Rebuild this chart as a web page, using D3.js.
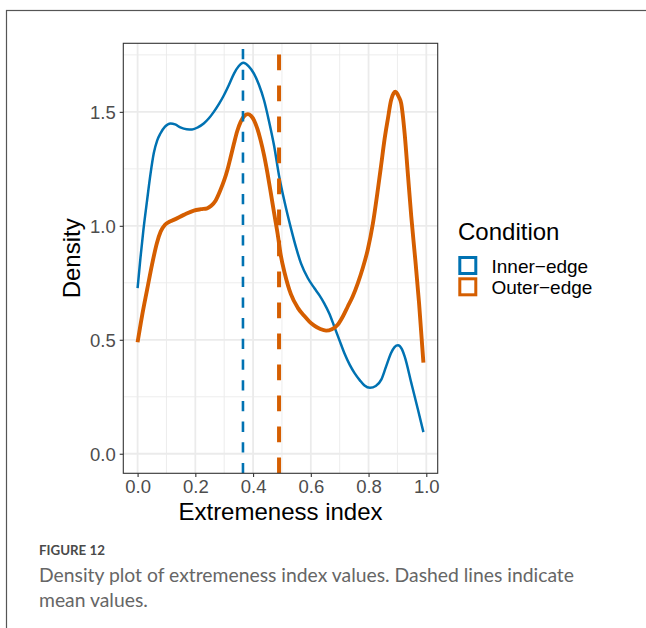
<!DOCTYPE html>
<html>
<head>
<meta charset="utf-8">
<script src="https://cdn.jsdelivr.net/npm/d3@7"></script>
<style>
  html, body { margin: 0; padding: 0; background: #fff; }
  svg { display: block; }
</style>
</head>
<body>
<svg id="chart" width="646" height="628"></svg>
<script>
// ---------- data ----------
const seriesNames = ["Inner\u2212edge", "Outer\u2212edge"];
const seriesColors = ["#0072B2", "#D55E00"];

const innerX = [0, 0.01, 0.02, 0.033, 0.045, 0.056, 0.068, 0.079, 0.095, 0.114, 0.13, 0.148, 0.17, 0.189, 0.21, 0.229, 0.247, 0.264, 0.282, 0.299, 0.317, 0.334, 0.35, 0.366, 0.385, 0.403, 0.42, 0.438, 0.455, 0.473, 0.49, 0.51, 0.531, 0.55, 0.566, 0.59, 0.612, 0.63, 0.646, 0.664, 0.681, 0.70, 0.716, 0.735, 0.751, 0.77, 0.786, 0.805, 0.825, 0.844, 0.86, 0.878, 0.89, 0.902, 0.915, 0.925, 0.948, 0.971, 0.99];
const innerY = [0.727, 0.86, 0.98, 1.113, 1.23, 1.318, 1.375, 1.405, 1.435, 1.449, 1.445, 1.432, 1.424, 1.423, 1.433, 1.449, 1.472, 1.50, 1.535, 1.573, 1.62, 1.668, 1.70, 1.715, 1.70, 1.668, 1.62, 1.551, 1.46, 1.35, 1.22, 1.10, 0.99, 0.90, 0.835, 0.77, 0.727, 0.695, 0.661, 0.615, 0.559, 0.495, 0.442, 0.39, 0.355, 0.322, 0.299, 0.289, 0.297, 0.325, 0.38, 0.442, 0.468, 0.476, 0.46, 0.427, 0.311, 0.194, 0.095];

const outerX = [0, 0.015, 0.033, 0.05, 0.067, 0.08, 0.095, 0.11, 0.125, 0.16, 0.195, 0.22, 0.241, 0.255, 0.27, 0.287, 0.3, 0.311, 0.322, 0.334, 0.345, 0.357, 0.37, 0.382, 0.393, 0.403, 0.415, 0.426, 0.438, 0.45, 0.462, 0.473, 0.485, 0.496, 0.51, 0.531, 0.555, 0.577, 0.595, 0.612, 0.633, 0.653, 0.673, 0.693, 0.71, 0.728, 0.745, 0.763, 0.78, 0.797, 0.815, 0.832, 0.844, 0.855, 0.867, 0.878, 0.893, 0.905, 0.913, 0.925, 0.936, 0.948, 0.962, 0.975, 0.99];
const outerY = [0.489, 0.602, 0.72, 0.83, 0.925, 0.975, 1.005, 1.018, 1.026, 1.048, 1.067, 1.073, 1.077, 1.088, 1.11, 1.157, 1.2, 1.245, 1.3, 1.362, 1.415, 1.456, 1.482, 1.49, 1.482, 1.464, 1.425, 1.376, 1.31, 1.23, 1.14, 1.055, 0.965, 0.87, 0.79, 0.70, 0.64, 0.605, 0.58, 0.562, 0.547, 0.54, 0.546, 0.566, 0.60, 0.646, 0.69, 0.749, 0.815, 0.894, 1.01, 1.157, 1.27, 1.376, 1.47, 1.551, 1.588, 1.565, 1.537, 1.405, 1.23, 1.04, 0.85, 0.66, 0.40];

const meanValues = [0.365, 0.49];

const xTicks = [0, 0.2, 0.4, 0.6, 0.8, 1.0];
const xMinor = [0.1, 0.3, 0.5, 0.7, 0.9];
const yTicks = [0, 0.5, 1.0, 1.5];
const yMinor = [0.25, 0.75, 1.25, 1.75];

const xTitle = "Extremeness index";
const yTitle = "Density";
const legendTitle = "Condition";
const figLabel = "FIGURE 12";
const captionLines = ["Density plot of extremeness index values. Dashed lines indicate", "mean values."];

// ---------- layout ----------
const svg = d3.select("#chart");
const P = { left: 123.3, right: 437.7, top: 43.3, bottom: 473.3 };
const FONT = "'Liberation Sans', Arial, Helvetica, sans-serif";

// outer frame
svg.append("rect").attr("x", 6.5).attr("y", 10.5).attr("width", 700).attr("height", 700)
  .attr("fill", "none").attr("stroke", "#555").attr("stroke-width", 1.2);

const x = d3.scaleLinear().domain([-0.0495, 1.0395]).range([P.left, P.right]);
const y = d3.scaleLinear().domain([-0.0858, 1.8008]).range([P.bottom, P.top]);

const g = svg.append("g");

// panel background
g.append("rect").attr("x", P.left).attr("y", P.top)
  .attr("width", P.right - P.left).attr("height", P.bottom - P.top).attr("fill", "#fff");

// grid
const grid = g.append("g");
grid.selectAll(".xm").data(xMinor).join("line")
  .attr("x1", d => x(d)).attr("x2", d => x(d)).attr("y1", P.top).attr("y2", P.bottom)
  .attr("stroke", "#ebebeb").attr("stroke-width", 0.9);
grid.selectAll(".ym").data(yMinor).join("line")
  .attr("y1", d => y(d)).attr("y2", d => y(d)).attr("x1", P.left).attr("x2", P.right)
  .attr("stroke", "#ebebeb").attr("stroke-width", 0.9);
grid.selectAll(".xM").data(xTicks).join("line")
  .attr("x1", d => x(d)).attr("x2", d => x(d)).attr("y1", P.top).attr("y2", P.bottom)
  .attr("stroke", "#ebebeb").attr("stroke-width", 1.8);
grid.selectAll(".yM").data(yTicks).join("line")
  .attr("y1", d => y(d)).attr("y2", d => y(d)).attr("x1", P.left).attr("x2", P.right)
  .attr("stroke", "#ebebeb").attr("stroke-width", 1.8);

// clip
svg.append("defs").append("clipPath").attr("id", "clip")
  .append("rect").attr("x", P.left).attr("y", P.top)
  .attr("width", P.right - P.left).attr("height", P.bottom - P.top);

const plot = g.append("g").attr("clip-path", "url(#clip)");

const line = d3.line().x(d => x(d[0])).y(d => y(d[1])).curve(d3.curveMonotoneX);

const seriesData = [
  d3.zip(innerX, innerY),
  d3.zip(outerX, outerY)
];
const lineWidths = [2.5, 3.9];

seriesData.forEach((data, i) => {
  plot.append("path").datum(data)
    .attr("d", line)
    .attr("fill", "none")
    .attr("stroke", seriesColors[i])
    .attr("stroke-width", lineWidths[i])
    .attr("stroke-linejoin", "round")
    .attr("stroke-linecap", "butt");
});

// mean lines (drawn bottom to top like ggplot)
const dashPatterns = ["10.3,10.4", "15.7,15.3"];
meanValues.forEach((m, i) => {
  plot.append("line")
    .attr("x1", x(m)).attr("x2", x(m))
    .attr("y1", P.bottom).attr("y2", P.top)
    .attr("stroke", seriesColors[i])
    .attr("stroke-width", lineWidths[i] + 0.1)
    .attr("stroke-dasharray", dashPatterns[i]);
});

// panel border
g.append("rect").attr("x", P.left).attr("y", P.top)
  .attr("width", P.right - P.left).attr("height", P.bottom - P.top)
  .attr("fill", "none").attr("stroke", "#333").attr("stroke-width", 1.1);

// axes
const fmt = d3.format(".1f");
const xAxis = d3.axisBottom(x).tickValues(xTicks).tickFormat(fmt).tickSize(3.6).tickPadding(5);
const yAxis = d3.axisLeft(y).tickValues(yTicks).tickFormat(fmt).tickSize(3.6).tickPadding(4);

const gx = svg.append("g").attr("transform", `translate(0,${P.bottom})`).call(xAxis);
const gy = svg.append("g").attr("transform", `translate(${P.left},0)`).call(yAxis);
[gx, gy].forEach(a => {
  a.select(".domain").remove();
  a.selectAll(".tick line").attr("stroke", "#333").attr("stroke-width", 1.1);
  a.selectAll(".tick text").attr("fill", "#4d4d4d")
    .style("font-family", FONT).style("font-size", "18.5px");
});
gx.selectAll(".tick text").attr("dy", null).attr("y", 19.5);
gy.selectAll(".tick text").attr("dy", "0.35em");

// axis titles
svg.append("text").attr("x", (P.left + P.right) / 2).attr("y", 519.5)
  .attr("text-anchor", "middle").attr("fill", "#000")
  .style("font-family", FONT).style("font-size", "24px").text(xTitle);
svg.append("text").attr("transform", `translate(80,${(P.top + P.bottom) / 2}) rotate(-90)`)
  .attr("text-anchor", "middle").attr("fill", "#000")
  .style("font-family", FONT).style("font-size", "24px").text(yTitle);

// legend
const lg = svg.append("g");
lg.append("text").attr("x", 458).attr("y", 240).attr("fill", "#000")
  .style("font-family", FONT).style("font-size", "24px").text(legendTitle);
const keyTop = [257.5, 278.8];
seriesNames.forEach((name, i) => {
  lg.append("rect").attr("x", 459.8).attr("y", keyTop[i]).attr("width", 16).attr("height", 16)
    .attr("fill", "none").attr("stroke", seriesColors[i]).attr("stroke-width", 3);
  lg.append("text").attr("x", 491.5).attr("y", keyTop[i] + 15.2).attr("fill", "#000")
    .style("font-family", FONT).style("font-size", "19px").text(name);
});

// caption
const CAPFONT = "Lato, 'Open Sans', 'Noto Sans', sans-serif";
const fl = svg.append("text").attr("x", 39).attr("y", 555).attr("fill", "#4a4a4a")
  .style("font-family", CAPFONT).style("font-weight", "700").style("font-size", "13px")
  .text(figLabel);
const flW = fl.node().getComputedTextLength();
if (flW > 0) fl.style("font-size", (13 * 66 / flW).toFixed(2) + "px");

const cap1 = svg.append("text").attr("x", 39).attr("y", 582).attr("fill", "#666")
  .style("font-family", CAPFONT).style("font-size", "17px").text(captionLines[0]);
const w1 = cap1.node().getComputedTextLength();
const capSize = w1 > 0 ? 17 * 535 / w1 : 17;
cap1.style("font-size", capSize.toFixed(2) + "px");
svg.append("text").attr("x", 39).attr("y", 607).attr("fill", "#666")
  .style("font-family", CAPFONT).style("font-size", capSize.toFixed(2) + "px").text(captionLines[1]);
</script>
</body>
</html>
